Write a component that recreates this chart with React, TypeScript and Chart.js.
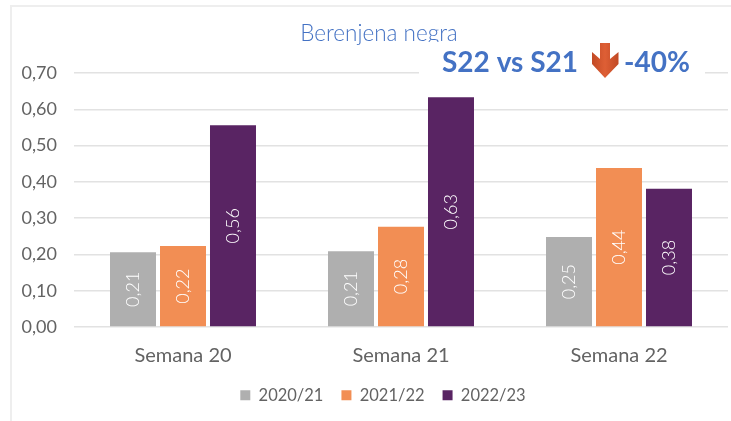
import React, { useEffect, useRef } from "react";
import { Chart, registerables } from "chart.js";

Chart.register(...registerables);

const categories = ["Semana 20", "Semana 21", "Semana 22"];
const seasons = ["2020/21", "2021/22", "2022/23"];
const values2021 = [0.206, 0.209, 0.248];
const values2122 = [0.223, 0.276, 0.438];
const values2223 = [0.556, 0.633, 0.381];
const seasonColors = ["#AFAFAF", "#F28E54", "#592463"];
const chartTitle = "Berenjena negra";
const calloutLeft = "S22 vs S21";
const calloutRight = "-40%";

const FONT = "Lato, sans-serif";
const TEXT = "#636363";
const GRID = "#E2E2E2";
const BLUE = "#4472C4";

const fmt = (v: number) => v.toFixed(2).replace(".", ",");

const overlay = {
  id: "overlay",
  afterLayout(chart: any) {
    const l = chart.legend;
    if (l) {
      const h = l.bottom - l.top;
      l.left += 12;
      l.right += 12;
      l.top = 369;
      l.bottom = 369 + h;
    }
    const t = chart.titleBlock;
    if (t) {
      t.left += 8;
      t.right += 8;
    }
  },
  beforeDraw(chart: any) {
    const c = chart.ctx;
    c.save();
    c.strokeStyle = "#EEEEEE";
    c.lineWidth = 2;
    c.beginPath();
    c.moveTo(11, 421);
    c.lineTo(11, 6);
    c.lineTo(731, 6);
    c.stroke();
    c.restore();
  },
  afterDatasetsDraw(chart: any) {
    const c = chart.ctx;
    c.save();
    c.fillStyle = "#FFFFFF";
    c.font = `300 18px ${FONT}`;
    c.textAlign = "center";
    c.textBaseline = "middle";
    chart.data.datasets.forEach((ds: any, i: number) => {
      chart.getDatasetMeta(i).data.forEach((bar: any, j: number) => {
        c.save();
        c.translate(bar.x, (bar.y + bar.base) / 2);
        c.rotate(-Math.PI / 2);
        c.fillText(fmt(ds.data[j]), 0, 0);
        c.restore();
      });
    });
    c.restore();
  },
  afterDraw(chart: any) {
    const c = chart.ctx;
    c.save();
    c.fillStyle = "#FFFFFF";
    c.fillRect(419, 42, 286, 36);
    c.fillStyle = BLUE;
    c.font = `700 28px ${FONT}`;
    c.textBaseline = "alphabetic";
    c.textAlign = "left";
    c.fillText(calloutLeft, 442, 72);
    c.fillText(calloutRight, 624, 72);
    c.beginPath();
    c.moveTo(600, 43);
    c.lineTo(610, 43);
    c.lineTo(610, 59);
    c.lineTo(618.5, 52);
    c.lineTo(618.5, 64);
    c.lineTo(605, 78);
    c.lineTo(592, 64);
    c.lineTo(592, 52);
    c.lineTo(600, 59);
    c.closePath();
    const g = c.createLinearGradient(592, 0, 618, 0);
    g.addColorStop(0, "#C24A25");
    g.addColorStop(0.5, "#DE5F35");
    g.addColorStop(1, "#C24A25");
    c.fillStyle = g;
    c.fill();
    c.restore();
  },
};

export default function App() {
  const ref = useRef<HTMLCanvasElement>(null);
  useEffect(() => {
    const chart = new Chart(ref.current!, {
      type: "bar",
      data: {
        labels: categories,
        datasets: [values2021, values2122, values2223].map((data, i) => ({
          label: seasons[i],
          data,
          backgroundColor: seasonColors[i],
          categoryPercentage: 0.688,
          barPercentage: 0.92,
        })),
      },
      options: {
        responsive: false,
        animation: false,
        layout: { padding: { left: 14, right: 3, top: 0, bottom: 0 } },
        plugins: {
          tooltip: { enabled: false },
          title: {
            display: true,
            text: chartTitle,
            color: BLUE,
            font: { family: FONT, size: 22.5, weight: "300" },
            padding: { top: 20.5, bottom: 25.5 },
          },
          legend: {
            position: "bottom",
            labels: {
              color: TEXT,
              font: { family: FONT, size: 16.5, weight: "400" },
              boxWidth: 10,
              boxHeight: 10,
              padding: 18,
            },
          },
        },
        scales: {
          x: {
            grid: { display: false, drawTicks: false },
            border: { display: false },
            ticks: { color: TEXT, padding: 17, font: { family: FONT, size: 20, weight: "400" } },
            afterFit(s: any) {
              s.height = 94 - (s.chart.legend?.height ?? 51);
            },
          },
          y: {
            min: 0,
            max: 0.7,
            grid: { color: GRID, lineWidth: 1.5, drawTicks: false },
            border: { display: false },
            ticks: {
              color: TEXT,
              stepSize: 0.1,
              padding: 17,
              font: { family: FONT, size: 18, weight: "400" },
              callback: (v: any) => fmt(Number(v)),
            },
            afterFit(s: any) {
              s.width = 60;
            },
          },
        },
      },
      plugins: [overlay],
    } as any);
    return () => chart.destroy();
  }, []);
  return (
    <div style={{ position: "absolute", left: 0, top: 0, width: 731, height: 421 }}>
      <canvas ref={ref} width={731} height={421} style={{ display: "block" }} />
    </div>
  );
}
